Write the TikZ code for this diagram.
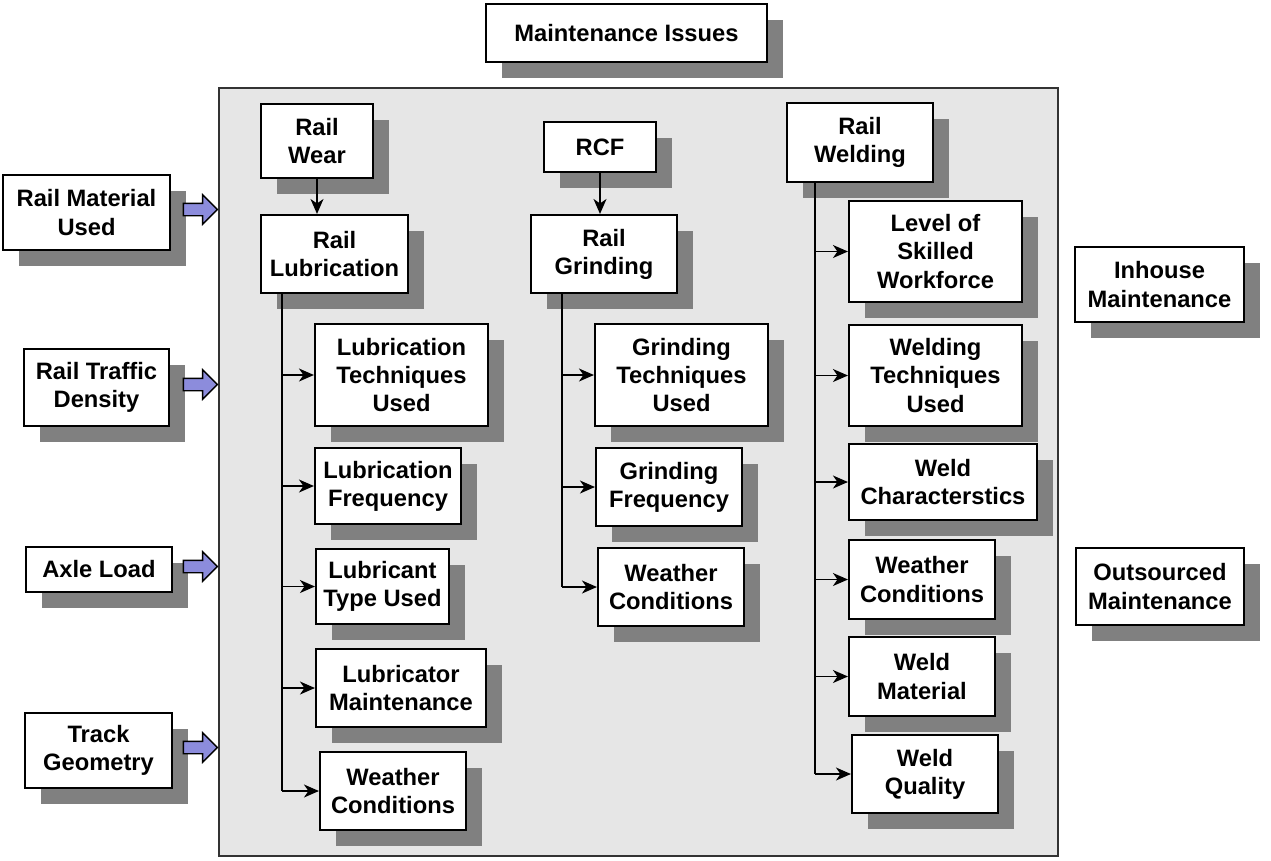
\documentclass[tikz,border=0pt]{standalone}
\usepackage{fontspec}
\setmainfont{Liberation Sans}
\usetikzlibrary{arrows.meta,shadows,shapes.arrows}

\definecolor{panelgray}{RGB}{230,230,230}
\definecolor{shadowgray}{RGB}{128,128,128}
\definecolor{arrowblue}{RGB}{140,140,220}

\tikzset{
  boxsize/.style 2 args={minimum width=#1*0.02cm, minimum height=#2*0.02cm},
  issuebox/.style={draw=black, line width=1.2pt, fill=white, align=center, inner sep=0pt,
    font=\fontsize{13.5}{16}\selectfont\bfseries,
    drop shadow={shadow xshift=0.32cm, shadow yshift=-0.32cm, fill=shadowgray, opacity=1}},
  panel/.style={draw=black!80, line width=0.7pt, fill=panelgray},
  spine/.style={line width=0.9pt},
  link/.style={line width=0.9pt, -{Stealth[length=0.3cm, width=0.26cm, inset=0.09cm]}},
  inarrow/.style={single arrow, draw=black, line width=0.8pt, fill=arrowblue, inner sep=0pt,
    inner ysep=0.11cm, minimum width=0.56cm, minimum height=0.68cm,
    single arrow head extend=0.17cm, anchor=tip}
}

\begin{document}
\begin{tikzpicture}[x=0.02cm, y=-0.02cm]
\useasboundingbox (0,0) rectangle (1271,860);

% container
\node[panel, boxsize={839}{768}] (frame) at (638.5,472) {};
\node[issuebox, boxsize={281}{58}] (issues) at (626.5,33) {Maintenance Issues};

% influencing factors on the left
\node[issuebox, boxsize={167}{75}] (material) at (86.5,212.5) {Rail Material\\Used};
\node[issuebox, boxsize={145}{77}] (traffic) at (96.5,387.5) {Rail Traffic\\Density};
\node[issuebox, boxsize={146}{45}] (axle) at (99,569.5) {Axle Load};
\node[issuebox, boxsize={147}{75}] (track) at (98.5,750.5) {Track\\Geometry};

\foreach \f in {material,traffic,axle,track}
  \node[inarrow] (\f arrow) at ([yshift=0.06cm]\f.east -| frame.west) {};

% rail wear column
\node[issuebox, boxsize={112}{74}] (wear) at (317,141) {Rail\\Wear};
\node[issuebox, boxsize={147}{78}] (lub) at (334.5,254) {Rail\\Lubrication};
\node[issuebox, boxsize={173}{102}] (lubtech) at (401.5,375) {Lubrication\\Techniques\\Used};
\node[issuebox, boxsize={146}{76}] (lubfreq) at (388,486) {Lubrication\\Frequency};
\node[issuebox, boxsize={133}{75}] (lubtype) at (382.5,586.5) {Lubricant\\Type Used};
\node[issuebox, boxsize={170}{78}] (lubmaint) at (401,688) {Lubricator\\Maintenance};
\node[issuebox, boxsize={146}{78}] (lubwx) at (393,791) {Weather\\Conditions};

% rcf column
\node[issuebox, boxsize={112}{50}] (rcf) at (600,147) {RCF};
\node[issuebox, boxsize={146}{78}] (grind) at (604,254) {Rail\\Grinding};
\node[issuebox, boxsize={173}{102}] (grtech) at (681.5,375) {Grinding\\Techniques\\Used};
\node[issuebox, boxsize={146}{78}] (grfreq) at (669,487) {Grinding\\Frequency};
\node[issuebox, boxsize={146}{78}] (grwx) at (671,587) {Weather\\Conditions};

% rail welding column
\node[issuebox, boxsize={146}{79}] (weld) at (860,142.5) {Rail\\Welding};
\node[issuebox, boxsize={173}{101}] (skill) at (935.5,251.5) {Level of\\Skilled\\Workforce};
\node[issuebox, boxsize={173}{101}] (weldtech) at (935.5,375.5) {Welding\\Techniques\\Used};
\node[issuebox, boxsize={188}{76}] (weldchar) at (943,482) {Weld\\Characterstics};
\node[issuebox, boxsize={146}{79}] (weldwx) at (922,579.5) {Weather\\Conditions};
\node[issuebox, boxsize={146}{79}] (weldmat) at (922,676.5) {Weld\\Material};
\node[issuebox, boxsize={146}{78}] (weldq) at (925,774) {Weld\\Quality};

% maintenance options
\node[issuebox, boxsize={169}{75}] (inhouse) at (1159.5,284.5) {Inhouse\\Maintenance};
\node[issuebox, boxsize={168}{77}] (outsourced) at (1160,586.5) {Outsourced\\Maintenance};

% connectors
\coordinate (lubspine) at (282,0);
\coordinate (grspine) at (562,0);
\coordinate (weldspine) at (815,0);

\draw[link] (wear.south) -- (wear.south |- lub.north);
\draw[link] (rcf.south) -- (rcf.south |- grind.north);

\draw[spine] (lubspine |- lub.south) -- (lubspine |- lubwx.west);
\foreach \n in {lubtech,lubfreq,lubtype,lubmaint,lubwx}
  \draw[link] (lubspine |- \n.west) -- (\n.west);

\draw[spine] (grspine |- grind.south) -- (grspine |- grwx.west);
\foreach \n in {grtech,grfreq,grwx}
  \draw[link] (grspine |- \n.west) -- (\n.west);

\draw[spine] (weldspine |- weld.south) -- (weldspine |- weldq.west);
\foreach \n in {skill,weldtech,weldchar,weldwx,weldmat,weldq}
  \draw[link] (weldspine |- \n.west) -- (\n.west);
\end{tikzpicture}
\end{document}
